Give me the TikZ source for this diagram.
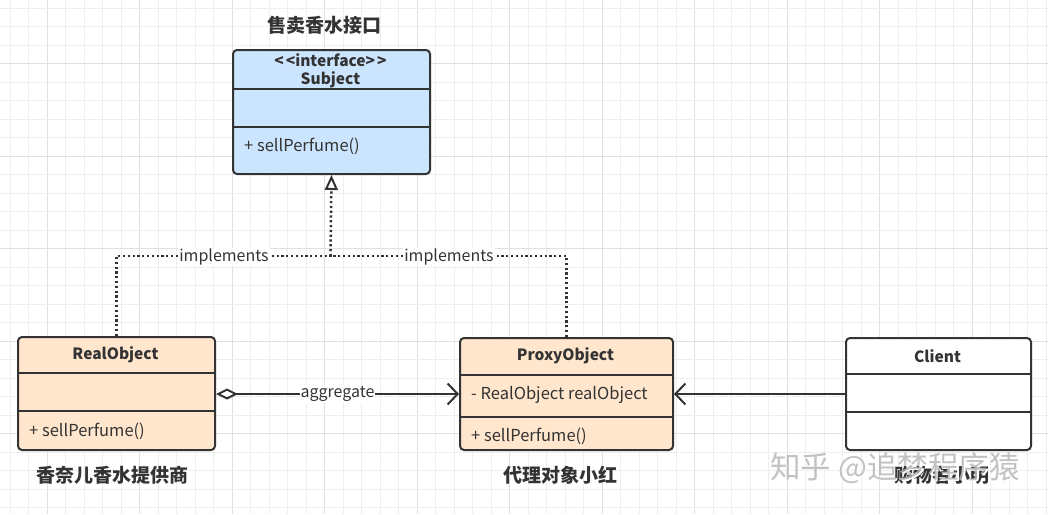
\documentclass[tikz,border=0pt]{standalone}
\usepackage{fontspec}
\setmainfont{Noto Sans CJK SC}
\usetikzlibrary{arrows.meta}
\definecolor{edge}{HTML}{333333}
\definecolor{txt}{HTML}{333333}
\definecolor{blueF}{HTML}{CCE5FF}
\definecolor{peachF}{HTML}{FFE6CC}
\definecolor{gridA}{HTML}{EEEEEE}
\definecolor{gridB}{HTML}{E0E0E0}
\tikzset{
  cls/.style={draw=edge, line width=2pt, rounded corners=4pt, inner sep=0pt, anchor=north west},
  divider/.style={draw=edge, line width=2pt},
  head/.style={text=txt, font=\fontsize{15.5}{17}\selectfont\bfseries, inner sep=0pt},
  member/.style={text=txt, font=\fontsize{16.5}{18}\selectfont, inner sep=0pt, anchor=west},
  caption/.style={text=txt, font=\fontsize{19}{21}\selectfont\bfseries, inner sep=0pt},
  lbl/.style={text=txt, font=\fontsize{16}{18}\selectfont, fill=white, inner sep=1pt},
  impl/.style={draw=edge, line width=2.5pt, dash pattern=on 2.2pt off 2.6pt},
  assoc/.style={draw=edge, line width=2pt},
}
\begin{document}
\begin{tikzpicture}[x=1pt,y=-1pt]
\useasboundingbox (0,0) rectangle (1048,514);
\fill[white] (0,0) rectangle (1048,514);
% grid
\foreach \i in {0,...,56} {
  \pgfmathsetmacro{\gx}{10+18.5*\i}
  \pgfmathtruncatemacro{\m}{mod(\i,5)}
  \ifnum\m=2 \draw[gridB, line width=0.8pt] (\gx,0) -- (\gx,514); \else \draw[gridA, line width=0.8pt] (\gx,0) -- (\gx,514); \fi
}
\foreach \i in {0,...,27} {
  \pgfmathsetmacro{\gy}{8+18.5*\i}
  \pgfmathtruncatemacro{\m}{mod(\i,5)}
  \ifnum\m=3 \draw[gridB, line width=0.8pt] (0,\gy) -- (1048,\gy); \else \draw[gridA, line width=0.8pt] (0,\gy) -- (1048,\gy); \fi
}

% Subject
\node[caption] (subjcap) at (324.5,25) {售卖香水接口};
\node[cls, fill=blueF, minimum width=197pt, minimum height=124pt] (subj) at (232,49) {};
\draw[divider] ([yshift=-40pt]subj.north west) -- ([yshift=-40pt]subj.north east);
\draw[divider] ([yshift=-78pt]subj.north west) -- ([yshift=-78pt]subj.north east);
\node[head] (subjst) at (330.5,60) {<\kern2pt<interface>\kern2pt>};
\node[head] (subjname) at (330.5,80) {Subject};
\node[member] (subjm) at (244,146) {+ sellPerfume()};

% RealObject
\node[cls, fill=peachF, minimum width=197pt, minimum height=113pt] (real) at (17,336) {};
\draw[divider] ([yshift=-37pt]real.north west) -- ([yshift=-37pt]real.north east);
\draw[divider] ([yshift=-75pt]real.north west) -- ([yshift=-75pt]real.north east);
\node[head] (realname) at (115.5,355) {RealObject};
\node[member] (realm) at (29,431) {+ sellPerfume()};
\node[caption] (realcap) at (112,475) {香奈儿香水提供商};

% ProxyObject
\node[cls, fill=peachF, minimum width=213pt, minimum height=112pt] (proxy) at (459,337) {};
\draw[divider] ([yshift=-38pt]proxy.north west) -- ([yshift=-38pt]proxy.north east);
\draw[divider] ([yshift=-80pt]proxy.north west) -- ([yshift=-80pt]proxy.north east);
\node[head] (proxyname) at (565.5,356) {ProxyObject};
\node[member] (proxya) at (471,395) {- RealObject realObject};
\node[member] (proxym) at (471,436) {+ sellPerfume()};
\node[caption] (proxycap) at (560,475) {代理对象小红};

% Client
\node[cls, fill=white, minimum width=185pt, minimum height=112pt] (client) at (845,337) {};
\draw[divider] ([yshift=-37pt]client.north west) -- ([yshift=-37pt]client.north east);
\draw[divider] ([yshift=-75pt]client.north west) -- ([yshift=-75pt]client.north east);
\node[head] (clientname) at (937.5,356) {Client};
\node[caption] (clientcap) at (942,475) {购物者小明};

% implements
\coordinate (junc) at (330.5,256);
\draw[impl] (real.north) |- (junc);
\draw[impl] (proxy.north) |- (junc);
\draw[impl, -{Triangle[open, length=15pt, width=13pt, line width=2pt]}] (junc) -- (subj.south);
\node[lbl] (impl1) at (224,257) {implements};
\node[lbl] (impl2) at (449,257) {implements};

% aggregate
\draw[assoc, {Diamond[open, length=22pt, width=11pt, line width=2pt]}-{Straight Barb[length=10pt, width=21pt, line width=2pt]}] (real.east |- 0,394) -- node[lbl] (agg) {aggregate} (proxy.west |- 0,394);
% client -> proxy
\draw[assoc, -{Straight Barb[length=10pt, width=21pt, line width=2pt]}] (client.west |- 0,394) -- (proxy.east |- 0,394);

% watermark
\node[text=white, font=\fontsize{30.5}{32}\selectfont, inner sep=0pt] (wmshadow) at (896.5,469.5) {知乎\ @追梦程序猿};
\node[text=black!28, opacity=0.85, font=\fontsize{30.5}{32}\selectfont, inner sep=0pt] (wm) at (895,468) {知乎\ @追梦程序猿};
\end{tikzpicture}
\end{document}
